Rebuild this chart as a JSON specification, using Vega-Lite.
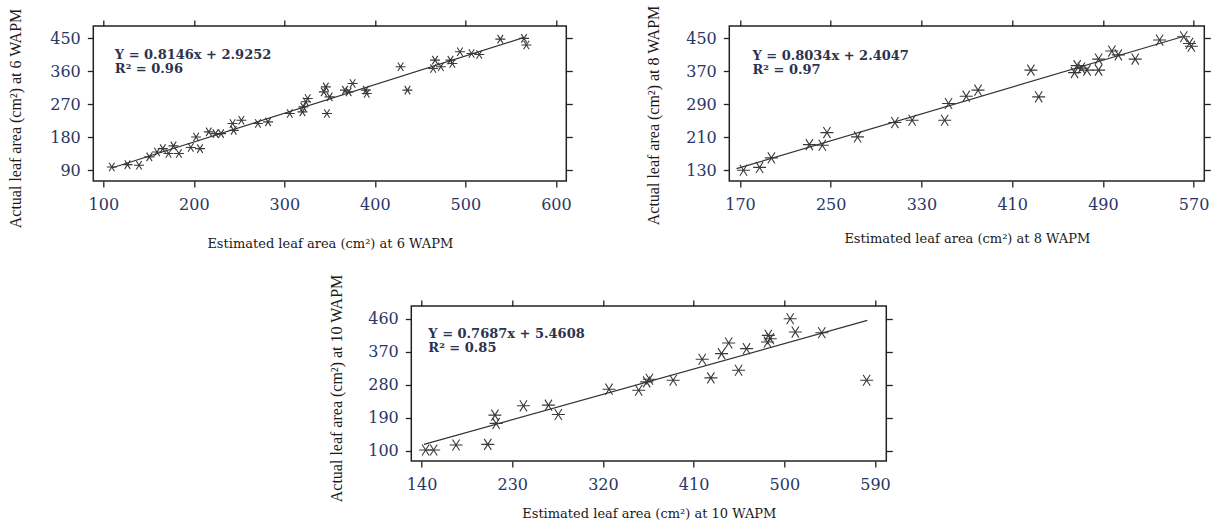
{
  "$schema": "https://vega.github.io/schema/vega-lite/v6.json",
  "background": "white",
  "padding": {"left": 7, "top": 4, "right": 0, "bottom": 0},
  "datasets": {
    "p1": [
      {"x":109.3,"y":99},{"x":126.7,"y":105.5},{"x":139.4,"y":103.7},{"x":150.8,"y":126.5},{"x":159.3,"y":140},{"x":165.7,"y":149},{"x":172,"y":135.6},{"x":177.5,"y":156.5},{"x":183.5,"y":135.6},{"x":196.6,"y":152},{"x":202.5,"y":181},{"x":206.8,"y":149},{"x":216.5,"y":194.8},{"x":224,"y":190},{"x":230,"y":190},{"x":242.8,"y":217.6},{"x":244,"y":199},{"x":252.5,"y":226.5},{"x":270.8,"y":217.6},{"x":282,"y":222},{"x":306,"y":245},{"x":320,"y":249.5},{"x":321,"y":263},{"x":323.7,"y":277},{"x":325.8,"y":286},{"x":343.6,"y":304},{"x":345.8,"y":317.8},{"x":347,"y":245},{"x":350,"y":290.5},{"x":367,"y":308.7},{"x":371,"y":304},{"x":375.4,"y":327},{"x":390,"y":308.7},{"x":391,"y":299.6},{"x":428.4,"y":372.5},{"x":436,"y":308.7},{"x":464.4,"y":368},{"x":466.5,"y":390.8},{"x":472.9,"y":372.5},{"x":483.5,"y":390.8},{"x":485.6,"y":381.6},{"x":494,"y":413.5},{"x":506.8,"y":409},{"x":515.3,"y":406},{"x":538.6,"y":448},{"x":564.8,"y":450},{"x":567.4,"y":432}
    ],
    "l1": [{"x":110,"y":97},{"x":564,"y":452}],
    "p2": [
      {"x":173.1,"y":130},{"x":187.3,"y":137},{"x":197.7,"y":160},{"x":231.2,"y":192.3},{"x":242.6,"y":190.7},{"x":246.7,"y":221.5},{"x":273.7,"y":211},{"x":306.6,"y":245.8},{"x":321.8,"y":251.5},{"x":350.5,"y":251.5},{"x":353.9,"y":292},{"x":369.5,"y":309.8},{"x":379.9,"y":324.4},{"x":426.5,"y":373},{"x":433.4,"y":308.2},{"x":465,"y":367},{"x":467.3,"y":384},{"x":471,"y":378},{"x":476,"y":373},{"x":486.2,"y":399.8},{"x":486.2,"y":373},{"x":497.9,"y":419.3},{"x":503.6,"y":410},{"x":518.5,"y":399.8},{"x":540,"y":446},{"x":561.3,"y":454},{"x":566.3,"y":437.8},{"x":568,"y":431}
    ],
    "l2": [{"x":167,"y":134},{"x":560,"y":454}],
    "p3": [
      {"x":144,"y":101.8},{"x":152,"y":101.8},{"x":174.2,"y":115.4},{"x":205.7,"y":117.2},{"x":212.8,"y":197},{"x":214,"y":174.4},{"x":241.1,"y":222.4},{"x":265.9,"y":224.2},{"x":275.7,"y":198.8},{"x":326,"y":267.8},{"x":355.5,"y":265},{"x":363.4,"y":287.7},{"x":366.1,"y":295},{"x":389.7,"y":292.2},{"x":418.5,"y":349.4},{"x":427.1,"y":298.6},{"x":437.7,"y":364.8},{"x":444.8,"y":393.8},{"x":454.6,"y":319.4},{"x":462.5,"y":378.4},{"x":483.3,"y":396.5},{"x":484.1,"y":414.7},{"x":486.1,"y":405.6},{"x":505.8,"y":460},{"x":510.9,"y":423.7},{"x":537.2,"y":421.9},{"x":581.7,"y":292.2}
    ],
    "l3": [{"x":142.4,"y":117.3},{"x":582.4,"y":455.6}]
  },
  "vconcat": [
    {
      "hconcat": [
        {
          "width": 473, "height": 155,
          "layer": [
            {
              "data": {"name": "p1"},
              "mark": {"type": "point", "shape": "M-1,0L1,0M-0.55,-0.85L0.55,0.85M-0.55,0.85L0.55,-0.85", "size": 100, "filled": false, "stroke": "#3a3a3a", "strokeWidth": 1.1, "opacity": 1},
              "encoding": {
                "x": {"field": "x", "type": "quantitative", "scale": {"domain": [88.9, 611.5], "nice": false, "zero": false}, "axis": {"orient": "bottom", "values": [100,200,300,400,500,600], "title": "Estimated leaf area (cm²) at 6 WAPM", "titlePadding": 25}},
                "y": {"field": "y", "type": "quantitative", "scale": {"domain": [60.7, 483.9], "nice": false, "zero": false}, "axis": {"orient": "left", "values": [90,180,270,360,450], "title": "Actual leaf area (cm²) at 6 WAPM", "titlePadding": 26, "titleY": 92}}
              }
            },
            {
              "data": {"name": "l1"},
              "mark": {"type": "line", "color": "#333333", "strokeWidth": 1.2},
              "encoding": {
                "x": {"field": "x", "type": "quantitative", "scale": {"domain": [88.9, 611.5], "nice": false, "zero": false}, "axis": {"orient": "top", "values": [100,200,300,400,500,600], "labels": false, "title": null}},
                "y": {"field": "y", "type": "quantitative", "scale": {"domain": [60.7, 483.9], "nice": false, "zero": false}, "axis": {"orient": "right", "values": [90,180,270,360,450], "labels": false, "title": null}}
              }
            },
            {
              "data": {"values": [{}]},
              "mark": {"type": "text", "text": ["Y = 0.8146x + 2.9252", "R² = 0.96"], "align": "left", "baseline": "middle", "lineHeight": 14, "font": "DejaVu Serif", "fontWeight": "bold", "fontSize": 13, "color": "#2b3350"},
              "encoding": {
                "x": {"datum": 112.7, "type": "quantitative", "scale": {"domain": [88.9, 611.5], "nice": false, "zero": false}, "axis": null},
                "y": {"datum": 404, "type": "quantitative", "scale": {"domain": [60.7, 483.9], "nice": false, "zero": false}, "axis": null}
              }
            }
          ],
          "resolve": {"axis": {"x": "independent", "y": "independent"}}
        },
        {
          "width": 475, "height": 155,
          "layer": [
            {
              "data": {"name": "p2"},
              "mark": {"type": "point", "shape": "M-1,0L1,0M-0.55,-0.85L0.55,0.85M-0.55,0.85L0.55,-0.85", "size": 169, "filled": false, "stroke": "#3a3a3a", "strokeWidth": 1.1, "opacity": 1},
              "encoding": {
                "x": {"field": "x", "type": "quantitative", "scale": {"domain": [160.6, 579.4], "nice": false, "zero": false}, "axis": {"orient": "bottom", "values": [170,250,330,410,490,570], "title": "Estimated leaf area (cm²) at 8 WAPM", "titlePadding": 20}},
                "y": {"field": "y", "type": "quantitative", "scale": {"domain": [104, 480.1], "nice": false, "zero": false}, "axis": {"orient": "left", "values": [130,210,290,370,450], "title": "Actual leaf area (cm²) at 8 WAPM", "titlePadding": 24, "titleY": 89}}
              }
            },
            {
              "data": {"name": "l2"},
              "mark": {"type": "line", "color": "#333333", "strokeWidth": 1.2},
              "encoding": {
                "x": {"field": "x", "type": "quantitative", "scale": {"domain": [160.6, 579.4], "nice": false, "zero": false}, "axis": {"orient": "top", "values": [170,250,330,410,490,570], "labels": false, "title": null}},
                "y": {"field": "y", "type": "quantitative", "scale": {"domain": [104, 480.1], "nice": false, "zero": false}, "axis": {"orient": "right", "values": [130,210,290,370,450], "labels": false, "title": null}}
              }
            },
            {
              "data": {"values": [{}]},
              "mark": {"type": "text", "text": ["Y = 0.8034x + 2.4047", "R² = 0.97"], "align": "left", "baseline": "middle", "lineHeight": 14, "font": "DejaVu Serif", "fontWeight": "bold", "fontSize": 13, "color": "#2b3350"},
              "encoding": {
                "x": {"datum": 181, "type": "quantitative", "scale": {"domain": [160.6, 579.4], "nice": false, "zero": false}, "axis": null},
                "y": {"datum": 408, "type": "quantitative", "scale": {"domain": [104, 480.1], "nice": false, "zero": false}, "axis": null}
              }
            }
          ],
          "resolve": {"axis": {"x": "independent", "y": "independent"}}
        }
      ],
      "spacing": 70
    },
    {
      "width": 475, "height": 155,
      "layer": [
        {
          "data": {"name": "p3"},
          "mark": {"type": "point", "shape": "M-1,0L1,0M-0.55,-0.85L0.55,0.85M-0.55,0.85L0.55,-0.85", "size": 169, "filled": false, "stroke": "#3a3a3a", "strokeWidth": 1.1, "opacity": 1},
          "encoding": {
            "x": {"field": "x", "type": "quantitative", "scale": {"domain": [129.8, 601.2], "nice": false, "zero": false}, "axis": {"orient": "bottom", "values": [140,230,320,410,500,590], "title": "Estimated leaf area (cm²) at 10 WAPM", "titlePadding": 15}},
            "y": {"field": "y", "type": "quantitative", "scale": {"domain": [71.8, 494.8], "nice": false, "zero": false}, "axis": {"orient": "left", "values": [100,190,280,370,460], "title": "Actual leaf area (cm²) at 10 WAPM", "titlePadding": 23, "titleY": 82}}
          }
        },
        {
          "data": {"name": "l3"},
          "mark": {"type": "line", "color": "#333333", "strokeWidth": 1.2},
          "encoding": {
            "x": {"field": "x", "type": "quantitative", "scale": {"domain": [129.8, 601.2], "nice": false, "zero": false}, "axis": {"orient": "top", "values": [140,230,320,410,500,590], "labels": false, "title": null}},
            "y": {"field": "y", "type": "quantitative", "scale": {"domain": [71.8, 494.8], "nice": false, "zero": false}, "axis": {"orient": "right", "values": [100,190,280,370,460], "labels": false, "title": null}}
          }
        },
        {
          "data": {"values": [{}]},
          "mark": {"type": "text", "text": ["Y = 0.7687x + 5.4608", "R² = 0.85"], "align": "left", "baseline": "middle", "lineHeight": 14, "font": "DejaVu Serif", "fontWeight": "bold", "fontSize": 13, "color": "#2b3350"},
          "encoding": {
            "x": {"datum": 146.7, "type": "quantitative", "scale": {"domain": [129.8, 601.2], "nice": false, "zero": false}, "axis": null},
            "y": {"datum": 419, "type": "quantitative", "scale": {"domain": [71.8, 494.8], "nice": false, "zero": false}, "axis": null}
          }
        }
      ],
      "resolve": {"axis": {"x": "independent", "y": "independent"}}
    }
  ],
  "spacing": 22,
  "center": true,
  "config": {
    "view": {"stroke": "#222222", "strokeWidth": 1.5},
    "axis": {"grid": false, "domain": false, "tickColor": "#222222", "tickSize": 6, "tickWidth": 1.3, "labelFont": "DejaVu Serif", "labelFontSize": 16, "labelColor": "#2a3668", "titleFontWeight": "normal", "titleColor": "#1a1a1a"},
    "axisX": {"labelPadding": 9, "titleFont": "DejaVu Serif", "titleFontSize": 13},
    "axisY": {"labelPadding": 7, "titleFont": "Liberation Serif", "titleFontSize": 16}
  }
}
